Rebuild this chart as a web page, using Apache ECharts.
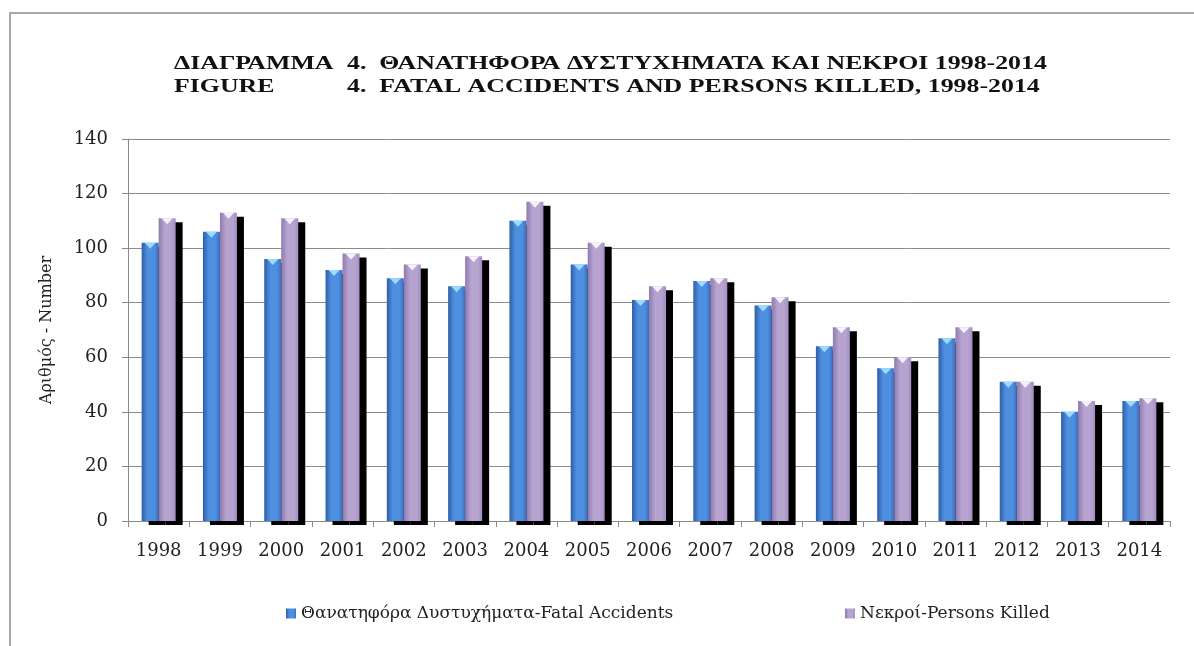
<!DOCTYPE html>
<html>
<head>
<meta charset="utf-8">
<script src="https://cdn.jsdelivr.net/npm/echarts@6/dist/echarts.min.js"></script>
<style>html,body{margin:0;padding:0;background:#fff}#c{width:1194px;height:646px}</style>
</head>
<body>
<div id="c"></div>
<script>
const years = ['1998','1999','2000','2001','2002','2003','2004','2005','2006','2007','2008','2009','2010','2011','2012','2013','2014'];
const fatalAccidents = [102,106,96,92,89,86,110,94,81,88,79,64,56,67,51,40,44];
const personsKilled = [111,113,111,98,94,97,117,102,86,89,82,71,60,71,51,44,45];
const yTicks = {min: 0, max: 140, interval: 20};
const seriesNames = ['Θανατηφόρα Δυστυχήματα-Fatal Accidents', 'Νεκροί-Persons Killed'];

const chart = echarts.init(document.getElementById('c'), null, {renderer: 'canvas'});

function grad(c0, c1, c2) {
  return new echarts.graphic.LinearGradient(0, 0, 1, 0, [
    {offset: 0, color: c0}, {offset: 0.35, color: c1}, {offset: 0.75, color: c1}, {offset: 1, color: c2}
  ]);
}
function tips(vals, color) {
  return {
    symbol: 'triangle', symbolRotate: 180, symbolSize: [11, 6], symbolOffset: [0, 3],
    itemStyle: {color: color, shadowBlur: 0, shadowOffsetX: 0, shadowOffsetY: 0, shadowColor: 'transparent'},
    label: {show: false}, silent: true,
    data: vals.map((v, i) => ({coord: [i, v]}))
  };
}
const shadow = {shadowColor: '#000', shadowBlur: 0, shadowOffsetX: 7, shadowOffsetY: 4};
const titleStyle = {fontFamily: 'Liberation Serif', fontWeight: 'bold', fontSize: 19, fill: '#111', verticalAlign: 'middle'};
function titleText(x, y, text) {
  return {type: 'text', x: x, y: y, scaleX: 1.36, style: Object.assign({text: text}, titleStyle)};
}
const legendText = {fontFamily: 'DejaVu Serif', fontSize: 17, color: '#222'};

chart.setOption({
  animation: false,
  backgroundColor: '#fff',
  graphic: [
    {type: 'rect', shape: {x: 10, y: 13, width: 1200, height: 660}, style: {fill: 'none', stroke: '#a8a8a8', lineWidth: 2}},
    titleText(174, 64, 'ΔΙΑΓΡΑΜΜΑ'),
    titleText(347, 64, '4.  ΘΑΝΑΤΗΦΟΡΑ ΔΥΣΤΥΧΗΜΑΤΑ ΚΑΙ ΝΕΚΡΟΙ 1998-2014'),
    titleText(174, 87, 'FIGURE'),
    titleText(347, 87, '4.  FATAL ACCIDENTS AND PERSONS KILLED, 1998-2014')
  ],
  legend: [
    {left: 281, top: 600, itemWidth: 10, itemHeight: 10, icon: 'rect', textStyle: legendText, data: [seriesNames[0]]},
    {left: 840, top: 600, itemWidth: 10, itemHeight: 10, icon: 'rect', textStyle: legendText, data: [seriesNames[1]]}
  ],
  grid: {left: 128, right: 24, top: 139, bottom: 125, containLabel: false},
  xAxis: {
    type: 'category', data: years,
    axisLine: {lineStyle: {color: '#8a8a8a', width: 1}},
    axisTick: {show: true, length: 6, lineStyle: {color: '#8a8a8a'}},
    axisLabel: {margin: 21, fontFamily: 'DejaVu Serif', fontSize: 18, color: '#222'}
  },
  yAxis: {
    type: 'value', min: yTicks.min, max: yTicks.max, interval: yTicks.interval,
    name: 'Αριθμός - Number', nameLocation: 'middle', nameGap: 73, nameRotate: 90,
    nameTextStyle: {fontFamily: 'DejaVu Serif', fontSize: 16, color: '#222'},
    axisLine: {show: true, lineStyle: {color: '#8a8a8a'}},
    axisTick: {show: true, length: 6, lineStyle: {color: '#8a8a8a'}},
    splitLine: {lineStyle: {color: '#8c8c8c', width: 1}},
    axisLabel: {margin: 20, fontFamily: 'DejaVu Serif', fontSize: 18, color: '#222'}
  },
  series: [
    {
      name: seriesNames[0], type: 'bar', data: fatalAccidents, barWidth: 17, barGap: '0%',
      itemStyle: Object.assign({color: grad('#2e5ea8', '#4f8fe0', '#3a6fc0')}, shadow),
      markPoint: tips(fatalAccidents, '#9bdcfa')
    },
    {
      name: seriesNames[1], type: 'bar', data: personsKilled, barWidth: 17, barGap: '0%',
      itemStyle: Object.assign({color: grad('#8f7aae', '#b6a3cf', '#a48fc0')}, shadow),
      markPoint: tips(personsKilled, '#f6f0fb')
    }
  ]
});
</script>
</body>
</html>
